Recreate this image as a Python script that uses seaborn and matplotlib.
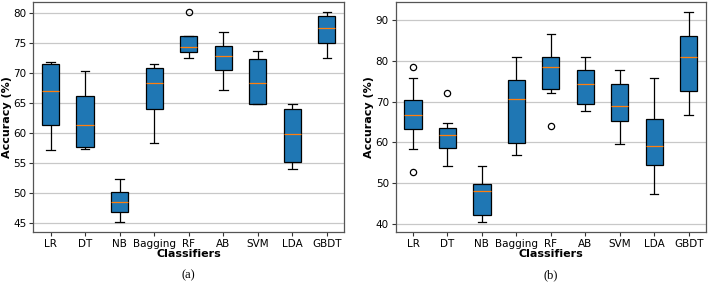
import numpy as np
import pandas as pd
import matplotlib.pyplot as plt
import seaborn as sns

classifiers = ['LR', 'DT', 'NB', 'Bagging', 'RF', 'AB', 'SVM', 'LDA', 'GBDT']
nan = np.nan

# panel (a): whisker ends, quartiles, medians and outliers
a_low = [57.2, 57.3, 45.2, 58.3, 72.5, 67.2, 64.9, 54.0, 72.6]
a_q1 = [61.3, 57.6, 46.8, 64.1, 73.6, 70.6, 64.9, 55.1, 75.0]
a_med = [67.1, 61.3, 48.5, 68.4, 74.4, 72.8, 68.4, 59.8, 77.6]
a_q3 = [71.6, 66.2, 50.2, 70.8, 76.2, 74.5, 72.3, 64.1, 79.6]
a_high = [71.8, 70.4, 52.3, 71.5, 76.2, 76.9, 73.7, 64.9, 80.2]
a_out_low = [nan, nan, nan, nan, nan, nan, nan, nan, nan]
a_out_high = [nan, nan, nan, nan, 80.2, nan, nan, nan, nan]

# panel (b)
b_low = [58.3, 54.1, 40.6, 56.9, 72.2, 67.6, 59.5, 47.3, 66.7]
b_q1 = [63.3, 58.6, 42.1, 59.9, 73.1, 69.5, 65.3, 54.5, 72.5]
b_med = [66.7, 61.7, 48.0, 70.7, 78.4, 74.4, 68.9, 59.1, 81.0]
b_q3 = [70.3, 63.5, 49.8, 75.4, 80.9, 77.7, 74.3, 65.7, 86.1]
b_high = [75.7, 64.8, 54.1, 81.0, 86.5, 81.0, 77.8, 75.7, 91.9]
b_out_low = [52.8, nan, nan, nan, 63.9, nan, nan, nan, nan]
b_out_high = [78.4, 72.2, nan, nan, nan, nan, nan, nan, nan]


def build(low, q1, med, q3, high, out_low, out_high):
    # 9 points per classifier so the 25/50/75 percentiles land on q1/med/q3
    # and the 12.5/87.5 percentiles on the whisker ends
    rows = []
    for i, c in enumerate(classifiers):
        lo_o = low[i] if np.isnan(out_low[i]) else out_low[i]
        hi_o = high[i] if np.isnan(out_high[i]) else out_high[i]
        vals = [lo_o, low[i], q1[i], q1[i], med[i], q3[i], q3[i], high[i], hi_o]
        for v in vals:
            rows.append({'Classifier': c, 'Accuracy': v})
    return pd.DataFrame(rows)


df_a = build(a_low, a_q1, a_med, a_q3, a_high, a_out_low, a_out_high)
df_b = build(b_low, b_q1, b_med, b_q3, b_high, b_out_low, b_out_high)

fig = plt.figure(figsize=(7.08, 2.89), dpi=100)
ax_a = fig.add_axes([0.047, 0.197, 0.439, 0.797])
ax_b = fig.add_axes([0.559, 0.197, 0.438, 0.797])

for ax, df, ticks, tag in [(ax_a, df_a, np.arange(45, 81, 5), '(a)'),
                           (ax_b, df_b, np.arange(40, 91, 10), '(b)')]:
    sns.boxplot(data=df, x='Classifier', y='Accuracy', ax=ax, order=classifiers,
                color='#1f77b4', saturation=1, width=0.5, whis=(12.5, 87.5),
                linecolor='black', linewidth=0.9,
                medianprops={'color': '#ff7f0e', 'linewidth': 0.9},
                flierprops={'marker': 'o', 'markerfacecolor': 'none',
                            'markeredgecolor': 'black', 'markersize': 4.5,
                            'markeredgewidth': 0.9})
    ax.set_axisbelow(True)
    ax.yaxis.grid(True, color='#c8c8c8', linewidth=0.9)
    ax.set_yticks(ticks)
    ax.tick_params(labelsize=7.5, length=3, pad=2, color='#333333')
    ax.set_xlabel('Classifiers', fontsize=8, fontweight='bold', labelpad=0)
    ax.set_ylabel('Accuracy (%)', fontsize=8, fontweight='bold', labelpad=1)
    for s in ax.spines.values():
        s.set_color('#555555')
        s.set_linewidth(0.9)
    pos = ax.get_position()
    fig.text(pos.x0 + pos.width / 2, 0.025, tag, ha='center', va='bottom',
             family='Liberation Serif', fontsize=9)

fig.savefig('out.png', dpi=100)
